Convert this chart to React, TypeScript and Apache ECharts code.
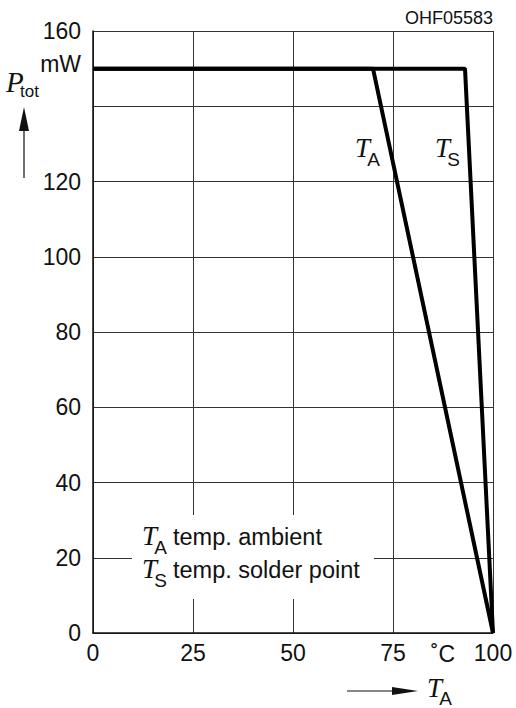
import React, { useEffect, useRef } from "react";
import * as echarts from "echarts";

const xTicks = [0, 25, 50, 75, 100];
const yTickLabels = ["0", "20", "40", "60", "80", "100", "120", "", "160"];
const seriesTA: [number, number][] = [[0, 150], [70, 150], [100, 0]];
const seriesTS: [number, number][] = [[0, 150], [93, 150], [100, 0]];

const SANS = "Liberation Sans, Arial, Helvetica, sans-serif";
const SERIF = "Liberation Serif, Times New Roman, serif";
const INK = "#111";

// text placed by its alphabetic baseline (middle of em box ~ baseline - 0.35*size)
function txt(text: string, x: number, baseline: number, font: string, size: number, align = "left", z = 10) {
  return {
    type: "text",
    x,
    y: baseline - 0.35 * size,
    z,
    style: { text, font, fill: INK, align, verticalAlign: "middle" },
  };
}

function tSub(x: number, baseline: number, sub: string, tSize = 27, subSize = 19, drop = 9) {
  return [
    txt("T", x, baseline, `italic ${tSize}px ${SERIF}`, tSize),
    txt(sub, x + tSize * 0.45, baseline + drop, `${subSize}px ${SANS}`, subSize),
  ];
}

export default function App() {
  const ref = useRef<HTMLDivElement>(null);
  useEffect(() => {
    if (!ref.current) return;
    const chart = echarts.init(ref.current, null, { renderer: "svg" });
    const option: any = {
      animation: false,
      backgroundColor: "#fff",
      grid: { left: 93, right: 23, top: 31, bottom: 75, containLabel: false },
      xAxis: {
        type: "value",
        min: 0,
        max: 100,
        interval: 25,
        axisLine: { show: true, lineStyle: { color: INK, width: 1.5 } },
        axisTick: { show: false },
        splitLine: { show: true, lineStyle: { color: "#333", width: 1 } },
        axisLabel: {
          margin: 8,
          color: INK,
          fontSize: 23,
          fontFamily: SANS,
          formatter: (v: number) => (xTicks.includes(v) ? String(v) : ""),
        },
      },
      yAxis: {
        type: "value",
        min: 0,
        max: 160,
        interval: 20,
        axisLine: { show: true, lineStyle: { color: INK, width: 1.5 } },
        axisTick: { show: false },
        splitLine: { show: true, lineStyle: { color: "#333", width: 1 } },
        axisLabel: {
          margin: 12,
          color: INK,
          fontSize: 23,
          fontFamily: SANS,
          formatter: (v: number) => yTickLabels[Math.round(v / 20)] ?? "",
        },
      },
      series: [
        {
          name: "TA",
          type: "line",
          data: seriesTA,
          showSymbol: false,
          symbol: "none",
          lineStyle: { color: "#000", width: 4 },
          z: 5,
        },
        {
          name: "TS",
          type: "line",
          data: seriesTS,
          showSymbol: false,
          symbol: "none",
          lineStyle: { color: "#000", width: 4 },
          z: 5,
        },
      ],
      graphic: [
        { type: "rect", z: 1, shape: { x: 132, y: 515, width: 242, height: 84 }, style: { fill: "#fff" } },
        txt("OHF05583", 493, 24, `18px ${SANS}`, 18, "right"),
        txt("mW", 81, 72, `23px ${SANS}`, 23, "right"),
        txt("P", 6, 92, `italic 29px ${SERIF}`, 29),
        txt("tot", 20, 97, `17px ${SANS}`, 17),
        { type: "line", shape: { x1: 24, y1: 178, x2: 24, y2: 125 }, style: { stroke: INK, lineWidth: 1.2 } },
        { type: "polygon", shape: { points: [[24, 107], [19, 131], [29, 131]] }, style: { fill: INK } },
        { type: "line", shape: { x1: 347, y1: 691, x2: 400, y2: 691 }, style: { stroke: INK, lineWidth: 1.2 } },
        { type: "polygon", shape: { points: [[418, 691], [392, 687], [392, 695]] }, style: { fill: INK } },
        ...tSub(427, 697, "A", 27, 19, 8),
        ...tSub(355, 157, "A"),
        ...tSub(435, 157, "S"),
        ...tSub(142, 545, "A"),
        ...tSub(142, 578, "S"),
        txt("temp. ambient", 173, 545, `23.5px ${SANS}`, 23.5),
        txt("temp. solder point", 173, 578, `23.5px ${SANS}`, 23.5),
        txt("˚C", 443, 662, `23px ${SANS}`, 23, "center"),
      ],
    };
    chart.setOption(option);
    return () => chart.dispose();
  }, []);
  return <div ref={ref} style={{ position: "absolute", left: 0, top: 0, width: 516, height: 708 }} />;
}
